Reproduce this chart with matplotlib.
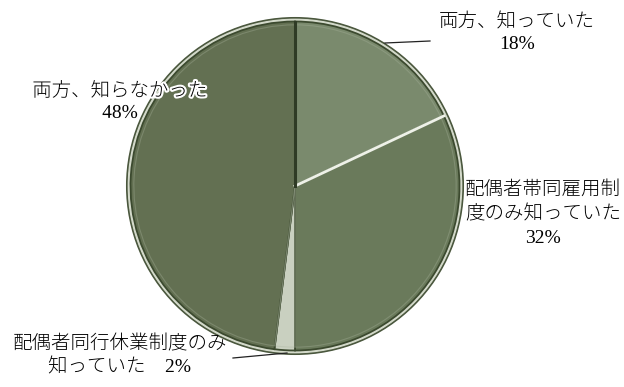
import matplotlib
matplotlib.use('Agg')
import matplotlib.pyplot as plt
import matplotlib.patheffects as pe

labels = ['両方、知っていた', '配偶者帯同雇用制\n度のみ知っていた', '配偶者同行休業制度のみ\n知っていた', '両方、知らなかった']
shares = [18, 32, 2, 48]
colors = ['#7a8a6d', '#6a7a5b', '#c9d0c0', '#637052']

plt.rcParams['font.family'] = ['Liberation Serif', 'Noto Sans CJK JP', 'DejaVu Sans']

W, H = 624, 387
CX, CY, R = 295, 186, 167


def px(x, y):
    # pixel position -> data units (pie radius = 1)
    return (x - CX) / R, (CY - y) / R


fig = plt.figure(figsize=(W / 100, H / 100), dpi=100)
ax = fig.add_axes([0, 0, 1, 1])
ax.axis('off')

# outer rim: thin dark edge, pale band
ax.add_patch(plt.Circle((0, 0), 1.008, color='#4a573d', zorder=0))
ax.add_patch(plt.Circle((0, 0), 0.998, color='#d4dacb', zorder=0))

wedges, _ = ax.pie(shares, colors=colors, startangle=90, counterclock=False,
                   radius=0.985, wedgeprops=dict(edgecolor='#3c4a2f', linewidth=1.3))
for w in wedges:
    w.set_zorder(1)

# soft bevel highlight inside each slice
hl, _ = ax.pie(shares, colors=['none'] * 4, startangle=90, counterclock=False,
               radius=0.965, wedgeprops=dict(edgecolor='#a9b39d', linewidth=0.8, alpha=0.35))
for w in hl:
    w.set_zorder(2)

# bright gap between the 18% and 32% slices, dark seam at the top
ax.plot([0, 0.985 * 0.9048], [0, 0.985 * 0.4258], color='#eef1e8', lw=2.0, zorder=3)
ax.plot([0, 0], [0, 0.985], color='#2f3b25', lw=2.2, zorder=3)

ax.set_xlim(-CX / R, (W - CX) / R)
ax.set_ylim(-(H - CY) / R, CY / R)
ax.set_aspect('auto')

fs = 14
fw = 'light'
glow = [pe.withStroke(linewidth=3, foreground='white')]

ax.text(*px(517, 33), labels[0] + '\n' + f'{shares[0]}%', ha='center', va='center',
        fontsize=fs, fontweight=fw, linespacing=1.35, zorder=5)
ax.text(*px(543, 214), labels[1] + '\n' + f'{shares[1]}%', ha='center', va='center',
        fontsize=fs, fontweight=fw, linespacing=1.45, zorder=5)
ax.text(*px(120, 102), labels[3] + '\n' + f'{shares[3]}%', ha='center', va='center',
        fontsize=fs, fontweight=fw, linespacing=1.35, zorder=5, path_effects=glow)
ax.text(*px(120, 356), labels[2] + '　' + f'{shares[2]}%', ha='center', va='center',
        fontsize=fs, fontweight=fw, linespacing=1.35, zorder=5)

# leader lines
ax.plot(*zip(px(385, 43), px(430, 41)), color='#222222', lw=0.9, zorder=4)
ax.plot(*zip(px(233, 358), px(287, 353)), color='#222222', lw=0.9, zorder=4)

fig.savefig('out.png', dpi=100)
